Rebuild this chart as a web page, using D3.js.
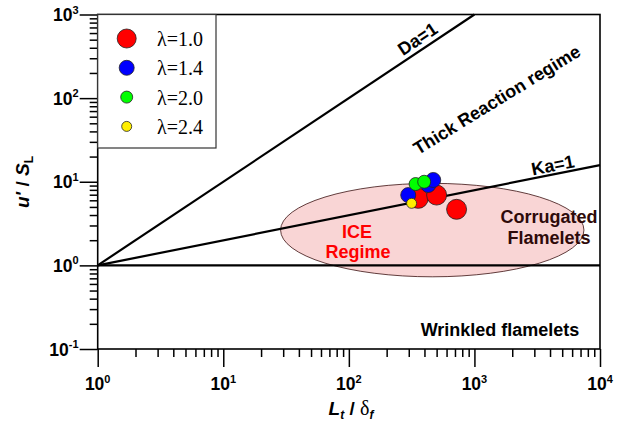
<!DOCTYPE html>
<html><head><meta charset="utf-8">
<script src="https://cdn.jsdelivr.net/npm/d3@7"></script>
<style>body{margin:0;background:#fff}svg{display:block}</style>
</head><body>
<svg id="c" width="624" height="427"></svg>
<script>
// ---- data ----
const xMajor = [1, 10, 100, 1000, 10000];
const xExp = ["0", "1", "2", "3", "4"];
const yMajor = [0.1, 1, 10, 100, 1000];
const yExp = ["-1", "0", "1", "2", "3"];

const seriesNames = ["λ=1.0", "λ=1.4", "λ=2.0", "λ=2.4"];
const lam10X = [357, 500, 721];
const lam10Y = [6.33, 6.93, 4.68];
const lam14X = [297, 429, 470];
const lam14Y = [6.93, 9.14, 10.5];
const lam20X = [340, 398];
const lam20Y = [9.39, 10.0];
const lam24X = [316];
const lam24Y = [5.52];

// regime boundaries (x, y pairs in data units)
const daLineX = [1, 1000];
const daLineY = [1, 1000];
const kaLineX = [1, 10000];
const kaLineY = [1, 15.8];
const unityLineX = [1, 10000];
const unityLineY = [1, 1];
// ICE regime ellipse bounds
const iceX = [28.6, 7450];
const iceY = [0.73, 9.57];

// ---- styles ----
const colors = ["#ff0000", "#0000ff", "#00ff00", "#ffee00"];
const radii = [10, 7.5, 6.5, 5];
const legendRadii = [9.5, 7.5, 6, 5];
const SANS = "'Liberation Sans', Arial, sans-serif";
const SERIF = "'Liberation Serif', 'Times New Roman', serif";

const svg = d3.select("#c");
const L = 97.7, R = 600, T = 14.5, B = 349;
const x = d3.scaleLog().domain([1, 10000]).range([L, R]);
const y = d3.scaleLog().domain([0.1, 1000]).range([B, T]);

function minors(domain) {
  const out = [];
  for (let e = Math.log10(domain[0]); e < Math.log10(domain[1]); e++)
    for (let k = 2; k <= 9; k++) out.push(k * Math.pow(10, e));
  return out;
}

// ICE ellipse
const lx0 = Math.log10(iceX[0]), lx1 = Math.log10(iceX[1]);
const ly0 = Math.log10(iceY[0]), ly1 = Math.log10(iceY[1]);
const ecx = x(Math.pow(10, (lx0 + lx1) / 2)), ecy = y(Math.pow(10, (ly0 + ly1) / 2));
svg.append("ellipse")
  .attr("cx", ecx).attr("cy", ecy)
  .attr("rx", (x(iceX[1]) - x(iceX[0])) / 2)
  .attr("ry", (y(iceY[0]) - y(iceY[1])) / 2)
  .attr("fill", "#f9d5d5").attr("stroke", "#3a1010").attr("stroke-width", 0.8);

// regime lines
const line = d3.line().x(d => x(d[0])).y(d => y(d[1]));
[[daLineX, daLineY], [kaLineX, kaLineY], [unityLineX, unityLineY]].forEach(([xs, ys]) => {
  svg.append("path").attr("d", line(xs.map((v, i) => [v, ys[i]])))
    .attr("fill", "none").attr("stroke", "#000").attr("stroke-width", 2.2);
});

// axes
const ax = svg.append("g").attr("transform", `translate(0,${B})`);
ax.call(d3.axisBottom(x).tickValues(xMajor).tickFormat("").tickSize(18).tickSizeOuter(0));
ax.append("g").call(d3.axisBottom(x).tickValues(minors([1, 10000])).tickFormat("").tickSize(8).tickSizeOuter(0));
const ay = svg.append("g").attr("transform", `translate(${L},0)`);
ay.call(d3.axisLeft(y).tickValues(yMajor).tickFormat("").tickSize(18).tickSizeOuter(0));
ay.append("g").call(d3.axisLeft(y).tickValues(minors([0.1, 1000])).tickFormat("").tickSize(8).tickSizeOuter(0));
svg.selectAll(".domain").remove();
svg.selectAll(".tick line").attr("stroke", "#000").attr("stroke-width", 1.5);

// frame
svg.append("rect").attr("x", L).attr("y", T).attr("width", R - L).attr("height", B - T)
  .attr("fill", "none").attr("stroke", "#000").attr("stroke-width", 1.6);

// tick labels
const xl = svg.append("g").attr("font-family", SANS).attr("font-weight", "bold").attr("font-size", 17.5);
xMajor.forEach((v, i) => {
  const t = xl.append("text").attr("x", x(v)).attr("y", 390).attr("text-anchor", "middle");
  t.append("tspan").text("10");
  t.append("tspan").attr("dy", -7.5).attr("font-size", 11).text(xExp[i]);
});
const yl = svg.append("g").attr("font-family", SANS).attr("font-weight", "bold").attr("font-size", 17.5);
yMajor.forEach((v, i) => {
  const t = yl.append("text").attr("x", 78.5).attr("y", y(v) + 6.5).attr("text-anchor", "end");
  t.append("tspan").text("10");
  t.append("tspan").attr("dy", -7.5).attr("font-size", 11).text(yExp[i]);
});

// axis titles
const xt = svg.append("text").attr("x", 351).attr("y", 415).attr("text-anchor", "middle")
  .attr("font-family", SANS).attr("font-weight", "bold").attr("font-size", 19);
xt.append("tspan").attr("font-style", "italic").text("L");
xt.append("tspan").attr("font-style", "italic").attr("font-size", 12).attr("dy", 4).text("t");
xt.append("tspan").attr("dy", -4).text(" / ");
xt.append("tspan").attr("font-family", SERIF).attr("font-weight", "normal").attr("font-size", 20).text("δ");
xt.append("tspan").attr("font-style", "italic").attr("font-size", 12).attr("dy", 4).text("f");

const yt = svg.append("text").attr("transform", "translate(29,182) rotate(-90)").attr("text-anchor", "middle")
  .attr("font-family", SANS).attr("font-weight", "bold").attr("font-size", 19);
yt.append("tspan").attr("font-style", "italic").text("u'");
yt.append("tspan").text(" / ");
yt.append("tspan").attr("font-style", "italic").text("S");
yt.append("tspan").attr("font-size", 12).attr("dy", 4).text("L");

// regime annotations
function angleOf(xs, ys) {
  return Math.atan2(y(ys[1]) - y(ys[0]), x(xs[1]) - x(xs[0])) * 180 / Math.PI;
}
function onLine(xs, ys, xv) {
  const f = (Math.log10(xv) - Math.log10(xs[0])) / (Math.log10(xs[1]) - Math.log10(xs[0]));
  const ly = Math.log10(ys[0]) + f * (Math.log10(ys[1]) - Math.log10(ys[0]));
  return [x(xv), y(Math.pow(10, ly))];
}
function lineLabel(xs, ys, xv, off, txt) {
  const [px, py] = onLine(xs, ys, xv);
  svg.append("text").attr("transform", `translate(${px},${py}) rotate(${angleOf(xs, ys)})`)
    .attr("y", -off).attr("text-anchor", "middle").attr("dominant-baseline", "central")
    .attr("font-family", SANS).attr("font-weight", "bold").attr("font-size", 18).text(txt);
}
lineLabel(daLineX, daLineY, 395, 11, "Da=1");
lineLabel(kaLineX, kaLineY, 4350, 9, "Ka=1");
svg.append("text").attr("transform", `translate(${x(1510)},${y(95)}) rotate(-31.5)`)
  .attr("text-anchor", "middle").attr("dominant-baseline", "central")
  .attr("font-family", SANS).attr("font-weight", "bold").attr("font-size", 18)
  .text("Thick Reaction regime");

function label(px, py, txt, color) {
  svg.append("text").attr("x", px).attr("y", py).attr("text-anchor", "middle")
    .attr("dominant-baseline", "central")
    .attr("font-family", SANS).attr("font-weight", "bold").attr("font-size", 18)
    .attr("fill", color).text(txt);
}
label(357, 231.5, "ICE", "#ff0000");
label(358, 252, "Regime", "#ff0000");
label(549, 216.5, "Corrugated", "#2e0a0a");
label(549, 237.5, "Flamelets", "#2e0a0a");
label(500, 330, "Wrinkled flamelets", "#000");

// data points
const allX = [lam10X, lam14X, lam20X, lam24X];
const allY = [lam10Y, lam14Y, lam20Y, lam24Y];
allX.forEach((xs, s) => {
  svg.append("g").selectAll("circle").data(xs.map((v, i) => [v, allY[s][i]])).join("circle")
    .attr("cx", d => x(d[0])).attr("cy", d => y(d[1])).attr("r", radii[s])
    .attr("fill", colors[s]).attr("stroke", "#222").attr("stroke-width", 0.8);
});

// legend
const lg = svg.append("g");
lg.append("rect").attr("x", L).attr("y", T).attr("width", 216 - L).attr("height", 148 - T)
  .attr("fill", "#fff").attr("stroke", "#333").attr("stroke-width", 1.2);
seriesNames.forEach((n, i) => {
  const cy = 38.5 + i * 29.3;
  lg.append("circle").attr("cx", 126.7).attr("cy", cy).attr("r", legendRadii[i])
    .attr("fill", colors[i]).attr("stroke", "#222").attr("stroke-width", 0.8);
  lg.append("text").attr("x", 157).attr("y", cy + 7.5).attr("font-family", SERIF)
    .attr("font-size", 20).attr("fill", "#000").text(n);
});
</script>
</body></html>
